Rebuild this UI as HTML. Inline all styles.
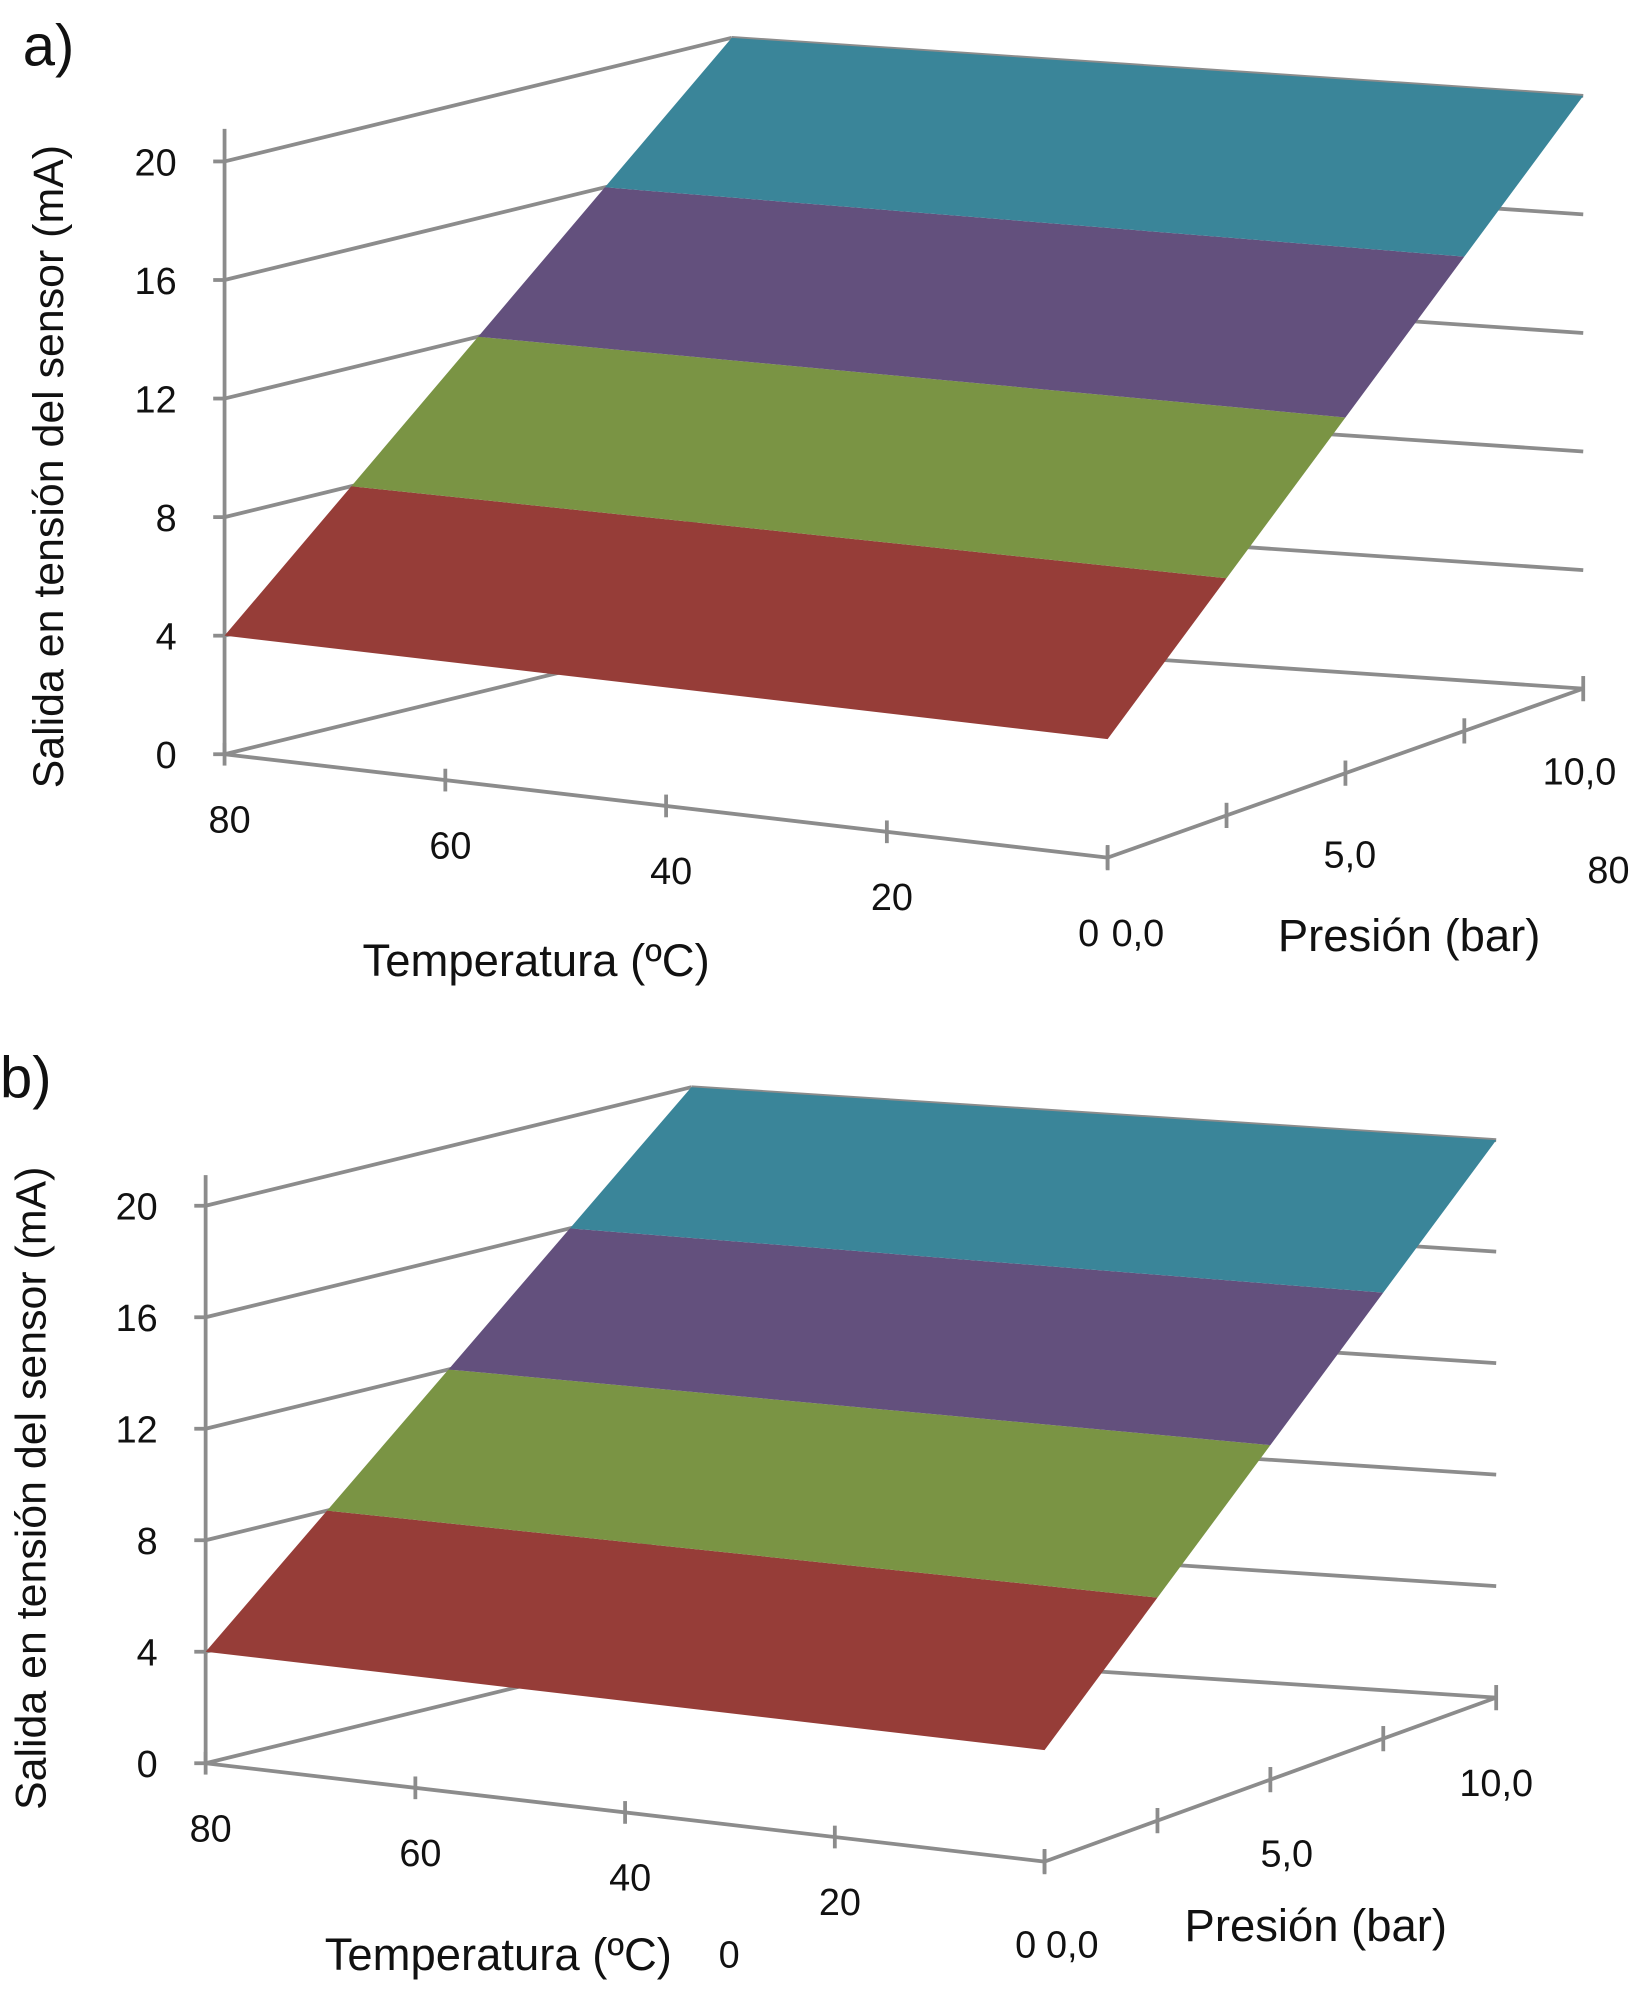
<!DOCTYPE html>
<html><head><meta charset="utf-8"><style>
html,body{margin:0;padding:0;background:#fff;}
svg{display:block;}
text{font-family:"Liberation Sans",sans-serif;fill:#111;}
</style></head><body>
<svg id="fig" width="1640" height="1989" viewBox="0 0 1300 1577" preserveAspectRatio="none" xmlns="http://www.w3.org/2000/svg"></svg>
<script>
const zTicks = [0, 4, 8, 12, 16, 20];
const tempTicks = [80, 60, 40, 20, 0];
const pressureTicks = [0, 2.5, 5, 7.5, 10];
const surfacePressures = [0, 10];
const surfaceZ = [4, 20];
const bandBounds = [4, 8, 12, 16, 20];
const bandColors = ['#963d38', '#7a9444', '#63507d', '#3a8599'];

const NS = 'http://www.w3.org/2000/svg';
const svg = document.getElementById('fig');
function mk(tag, attrs, parent) {
  const e = document.createElementNS(NS, tag);
  for (const k in attrs) e.setAttribute(k, attrs[k]);
  (parent || svg).appendChild(e);
  return e;
}
const GRID = '#8c8c8c';

const charts = [
  {id:'a', FL:[178,598], FR:[878,680], BR:[1255,546], BL:[580,500], k:23.5, top:21.1,
   label:[18,52,'a)'], yTitle:[50,370], tTitle:[425,774], pTitle:[1117,754],
   zero:[863,750], zeroP:[902,750], p5:[1070,688], p10:[1252,622], extra:[[1275,700,'80']]},
  {id:'b', FL:[163,1398], FR:[828,1476], BR:[1186,1346], BL:[548,1304], k:22.1, top:21.1,
   label:[0,870,'b)'], yTitle:[36,1180], tTitle:[395,1562], pTitle:[1043,1539],
   zero:[813,1552], zeroP:[850,1552], p5:[1020,1480], p10:[1186,1424], extra:[[578,1560,'0']]}
];

charts.forEach(c => {
  const g = mk('g', {});
  
  
  const tMax = tempTicks[0], pMax = pressureTicks[pressureTicks.length - 1];
  function pt(t, p, z) {
    const u = (tMax - t) / tMax, v = p / pMax;
    const fx = c.FL[0] + (c.FR[0] - c.FL[0]) * u, fy = c.FL[1] + (c.FR[1] - c.FL[1]) * u;
    const bx = c.BL[0] + (c.BR[0] - c.BL[0]) * u, by = c.BL[1] + (c.BR[1] - c.BL[1]) * u;
    return [fx + (bx - fx) * v, fy + (by - fy) * v - c.k * z];
  }
  function line(a, b, name) {
    const l = mk('line', {x1:a[0], y1:a[1], x2:b[0], y2:b[1], stroke:GRID, 'stroke-width':3}, g);
    
    
  }
  zTicks.forEach(z => {
    line(pt(tMax, 0, z), pt(tMax, pMax, z), 'left-wall-gridline');
    line(pt(tMax, pMax, z), pt(0, pMax, z), 'back-wall-gridline');
  });
  line(pt(tMax, 0, 0), pt(tMax, 0, c.top), 'z-axis');
  line(pt(tMax, 0, 0), pt(0, 0, 0), 'temperature-axis');
  line(pt(0, 0, 0), pt(0, pMax, 0), 'pressure-axis');
  zTicks.forEach(z => {
    const p = pt(tMax, 0, z);
    line([p[0] - 9, p[1]], p, 'z-tick');
    const t = mk('text', {x:p[0] - 38, y:p[1] + 11, 'font-size':30, 'text-anchor':'end'}, g);
    t.textContent = z;
    
    
  });
  tempTicks.forEach((tv, i) => {
    const p = pt(tv, 0, 0);
    line([p[0], p[1] - 9], [p[0], p[1] + 9], 'temperature-tick');
    if (tv !== 0) {
      const t = mk('text', {x:p[0] + 4, y:p[1] + 62, 'font-size':30, 'text-anchor':'middle'}, g);
      t.textContent = tv;
      
      
    }
  });
  pressureTicks.forEach(pv => {
    const p = pt(0, pv, 0);
    line([p[0], p[1] - 10], [p[0], p[1] + 10], 'pressure-tick');
  });
  for (let i = 0; i < bandColors.length; i++) {
    const slope = (surfaceZ[1] - surfaceZ[0]) / (surfacePressures[1] - surfacePressures[0]);
    const p0 = surfacePressures[0] + (bandBounds[i] - surfaceZ[0]) / slope;
    const p1 = surfacePressures[0] + (bandBounds[i + 1] - surfaceZ[0]) / slope;
    const pts = [pt(tMax, p0, bandBounds[i]), pt(0, p0, bandBounds[i]), pt(0, p1, bandBounds[i + 1]), pt(tMax, p1, bandBounds[i + 1])];
    const poly = mk('polygon', {points: pts.map(q => q.join(',')).join(' '), fill: bandColors[i]}, g);
    
    
  }
  function txt(x, y, s, size, name, anchor, rot) {
    const t = mk('text', {x:x, y:y, 'font-size':size, 'text-anchor':anchor || 'middle'}, g);
    if (rot) t.setAttribute('transform', 'rotate(-90 ' + x + ' ' + y + ')');
    t.textContent = s;
    
    
  }
  txt(c.label[0], c.label[1], c.label[2], 46, 'panel-label', 'start');
  txt(c.yTitle[0], c.yTitle[1], 'Salida en tensión del sensor (mA)', 34, 'y-axis-title', 'middle', true);
  txt(c.tTitle[0], c.tTitle[1], 'Temperatura (ºC)', 36, 'temperature-axis-title');
  txt(c.pTitle[0], c.pTitle[1], 'Presión (bar)', 36, 'pressure-axis-title');
  txt(c.zero[0], c.zero[1], '0', 30, 'temperature-zero-label');
  txt(c.zeroP[0], c.zeroP[1], '0,0', 30, 'pressure-zero-label');
  txt(c.p5[0], c.p5[1], '5,0', 30, 'pressure-tick-label');
  txt(c.p10[0], c.p10[1], '10,0', 30, 'pressure-tick-label');
  c.extra.forEach(e => txt(e[0], e[1], e[2], 30, 'stray-label'));
});
</script>
</body></html>
